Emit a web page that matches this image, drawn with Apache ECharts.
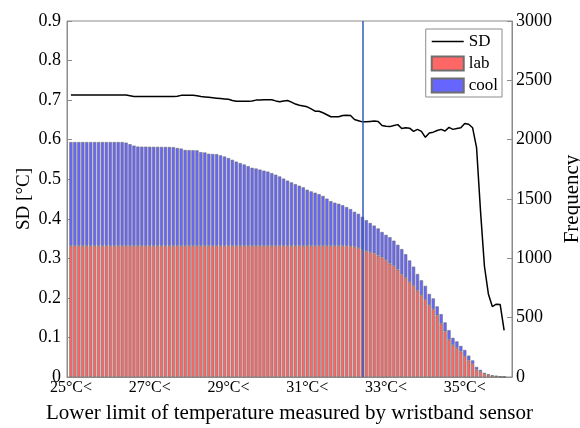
<!DOCTYPE html>
<html>
<head>
<meta charset="utf-8">
<script src="https://cdn.jsdelivr.net/npm/echarts@6/dist/echarts.min.js"></script>
<style>
  html, body { margin: 0; padding: 0; background: #fff; }
  #chart { width: 580px; height: 428px; }
</style>
</head>
<body>
<div id="chart"></div>
<script>
// Temperature thresholds (°C), one bar per 0.1 °C from 25.0 to 36.0
const thresholds = [];
for (let k = 250; k <= 360; k++) thresholds.push((k / 10).toFixed(1));

// Counts of samples above each threshold, lab condition
const labCounts = [
  1105,1105,1105,1105,1105,1105,1105,1105,1105,1105, // 25.0-25.9
  1105,1105,1105,1105,1105,1105,1105,1105,1105,1105, // 26.0-26.9
  1105,1105,1105,1105,1105,1105,1105,1105,1105,1105, // 27.0-27.9
  1105,1105,1105,1105,1105,1105,1105,1105,1105,1105, // 28.0-28.9
  1105,1105,1105,1105,1105,1105,1105,1105,1105,1105, // 29.0-29.9
  1105,1105,1105,1105,1105,1105,1105,1105,1105,1105, // 30.0-30.9
  1105,1105,1105,1105,1105,1105,1105,1105,1105,1105, // 31.0-31.9
  1104,1102,1097,1087,1072,1061,1052,1042,1024,1008, // 32.0-32.9
  985,955,936,905,865,835,800,768,728,690,           // 33.0-33.9
  650,606,572,520,450,385,315,270,245,215,           // 34.0-34.9
  175,140,110,63,45,25,18,10,6,3,                    // 35.0-35.9
  1                                                  // 36.0
];

// Counts of samples above each threshold, cool condition (stacked on lab)
const coolCounts = [
  875,875,875,875,875,875,875,875,875,875,           // 25.0-25.9
  875,875,875,875,870,857,845,837,836,836,           // 26.0-26.9
  835,835,835,834,834,833,832,825,820,808,           // 27.0-27.9
  807,806,805,790,787,776,774,773,763,753,           // 28.0-28.9
  740,725,710,698,686,672,658,652,643,634,           // 29.0-29.9
  626,613,600,585,567,550,535,520,507,493,           // 30.0-30.9
  473,459,448,436,421,398,377,364,355,343,           // 31.0-31.9
  328,313,295,288,278,261,246,234,228,214,           // 32.0-32.9
  213,223,213,209,213,200,182,162,140,125,           // 33.0-33.9
  118,94,90,75,80,75,80,60,55,47,                    // 34.0-34.9
  53,40,30,22,15,10,6,4,2,2,                         // 35.0-35.9
  1                                                  // 36.0
];

// Standard deviation (°C) of the samples above each threshold
const sdValues = [
  0.713,0.713,0.713,0.713,0.713,0.713,0.713,0.713,0.713,0.713, // 25.0-25.9
  0.713,0.713,0.713,0.713,0.713,0.711,0.709,0.709,0.709,0.709, // 26.0-26.9
  0.709,0.709,0.709,0.709,0.709,0.709,0.709,0.710,0.712,0.712, // 27.0-27.9
  0.712,0.712,0.711,0.709,0.708,0.707,0.706,0.705,0.704,0.703, // 28.0-28.9
  0.702,0.699,0.697,0.697,0.697,0.697,0.698,0.700,0.700,0.701, // 29.0-29.9
  0.701,0.701,0.698,0.696,0.698,0.699,0.695,0.690,0.687,0.685, // 30.0-30.9
  0.683,0.678,0.672,0.672,0.668,0.663,0.658,0.658,0.658,0.661, // 31.0-31.9
  0.662,0.661,0.651,0.648,0.645,0.645,0.646,0.647,0.646,0.636, // 32.0-32.9
  0.634,0.633,0.636,0.638,0.628,0.630,0.629,0.621,0.626,0.621, // 33.0-33.9
  0.606,0.617,0.619,0.623,0.626,0.622,0.631,0.626,0.628,0.630, // 34.0-34.9
  0.641,0.639,0.630,0.580,0.420,0.280,0.210,0.178,0.184,0.183, // 35.0-35.9
  0.118                                                        // 36.0
];

// Selected threshold marked by the vertical line
const selectedThreshold = '32.4';

// Axis extent: one empty slot before the first threshold, two after the last
const leadSlots = ['24.9'];
const tailSlots = ['36.1', '36.2'];
const categories = leadSlots.concat(thresholds, tailSlots);

// Tick labels shown on the temperature axis
const xTickLabels = ['25.0', '27.0', '29.0', '31.0', '33.0', '35.0'];
const sdTicks = { min: 0, max: 0.9, step: 0.1 };
const freqTicks = { min: 0, max: 3000, step: 500 };

const FONT = 'Liberation Serif';
const AXIS_GREY = '#8c8c8c';

// Align a value list with the padded category list
const aligned = (vals) =>
  leadSlots.map(() => null).concat(vals, tailSlots.map(() => null));

const isTick = (idx) => xTickLabels.indexOf(categories[idx]) !== -1;

const chart = echarts.init(document.getElementById('chart'), null, { renderer: 'canvas' });

const barStyle = (fill) => ({
  color: fill,
  borderColor: '#6e6e6e',
  borderWidth: 0.6
});

// Thin horizontal line as the legend glyph for the SD curve
const lineGlyph = 'path://M0,0 L0.01,0 Z M0,6.3 L32,6.3 L32,7.7 L0,7.7 Z M0,14 L0.01,14 Z';

chart.setOption({
  animation: false,
  backgroundColor: '#ffffff',
  grid: {
    left: 67, right: 68, top: 21, bottom: 51,
    outerBoundsMode: 'none', containLabel: false,
    show: true, borderColor: AXIS_GREY, borderWidth: 1, backgroundColor: 'transparent'
  },
  legend: {
    orient: 'vertical',
    right: 78, top: 29,
    padding: [4, 4, 3, 5],
    itemGap: 5,
    itemWidth: 32, itemHeight: 14,
    backgroundColor: '#ffffff',
    borderColor: AXIS_GREY, borderWidth: 1, borderRadius: 0,
    textStyle: { fontFamily: FONT, fontSize: 17, lineHeight: 15, color: '#000' },
    data: [
      { name: 'SD', icon: lineGlyph, itemStyle: { color: '#000' } },
      { name: 'lab', icon: 'rect' },
      { name: 'cool', icon: 'rect' }
    ]
  },
  xAxis: {
    type: 'category',
    data: categories,
    boundaryGap: false,
    splitLine: { show: false },
    axisLine: { show: true, lineStyle: { color: AXIS_GREY, width: 1 } },
    axisTick: { show: true, inside: true, length: 5, interval: (idx) => isTick(idx), lineStyle: { color: AXIS_GREY } },
    axisLabel: {
      interval: (idx) => isTick(idx),
      formatter: (v) => parseInt(v, 10) + '°C<',
      fontFamily: FONT, fontSize: 16, color: '#000', margin: 3
    },
    name: 'Lower limit of temperature measured by wristband sensor',
    nameLocation: 'middle', nameGap: 26, nameMoveOverlap: false,
    nameTextStyle: { fontFamily: FONT, fontSize: 21, color: '#000' }
  },
  yAxis: [
    {
      type: 'value', position: 'left',
      min: sdTicks.min, max: sdTicks.max, interval: sdTicks.step,
      splitLine: { show: false },
      axisLine: { show: true, lineStyle: { color: AXIS_GREY, width: 1 } },
      axisTick: { show: true, inside: true, length: 5, lineStyle: { color: AXIS_GREY } },
      axisLabel: {
        formatter: (v) => (v === 0 ? '0' : v.toFixed(1)),
        fontFamily: FONT, fontSize: 18, color: '#000', margin: 6
      },
      name: 'SD [°C]', nameLocation: 'middle', nameGap: 33, nameRotate: 90, nameMoveOverlap: false,
      nameTextStyle: { fontFamily: FONT, fontSize: 19, color: '#000' }
    },
    {
      type: 'value', position: 'right',
      min: freqTicks.min, max: freqTicks.max, interval: freqTicks.step,
      splitLine: { show: false },
      axisLine: { show: true, lineStyle: { color: AXIS_GREY, width: 1 } },
      axisTick: { show: true, inside: true, length: 5, lineStyle: { color: AXIS_GREY } },
      axisLabel: {
        formatter: (v) => String(v),
        fontFamily: FONT, fontSize: 18, color: '#000', margin: 4
      },
      name: 'Frequency', nameLocation: 'middle', nameGap: 50, nameRotate: 90, nameMoveOverlap: false,
      nameTextStyle: { fontFamily: FONT, fontSize: 21, color: '#000' }
    }
  ],
  series: [
    {
      name: 'lab', type: 'bar', stack: 'freq', yAxisIndex: 1,
      barWidth: 3.3,
      itemStyle: barStyle('#ff6666'),
      data: aligned(labCounts), z: 2
    },
    {
      name: 'cool', type: 'bar', stack: 'freq', yAxisIndex: 1,
      barWidth: 3.3,
      itemStyle: barStyle('#6666ff'),
      data: aligned(coolCounts), z: 2
    },
    {
      name: 'SD', type: 'line', yAxisIndex: 0,
      symbol: 'none', showSymbol: false,
      lineStyle: { color: '#000', width: 1.5 },
      itemStyle: { color: '#000' },
      data: aligned(sdValues), z: 4,
      markLine: {
        silent: true, symbol: ['none', 'none'],
        label: { show: false },
        lineStyle: { color: '#3358c4', width: 1.5, type: 'solid' },
        data: [{ xAxis: selectedThreshold }]
      }
    }
  ]
});
</script>
</body>
</html>
